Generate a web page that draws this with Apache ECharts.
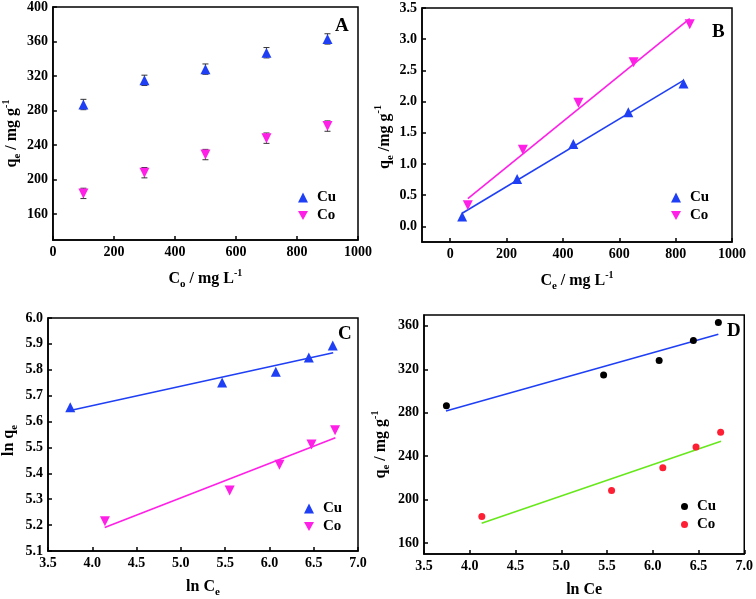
<!DOCTYPE html>
<html>
<head>
<meta charset="utf-8">
<script src="https://cdn.jsdelivr.net/npm/echarts@6/dist/echarts.min.js"></script>
<style>html,body{margin:0;padding:0;background:#fff;}#c{width:756px;height:599px;}</style>
</head>
<body>
<div id="c"></div>
<script>
// ---- Panel A: qe vs C0 (with error bars)
const aConc = [100, 300, 500, 700, 900];
const aCuQe = [287, 315, 328, 347, 363];
const aCoQe = [184, 208, 229, 248, 262];
const aCuErr = [6, 6, 6, 6, 6];
const aCoErr = [6, 6, 6, 6, 6];
const aXTicks = [0, 200, 400, 600, 800, 1000];
const aYTicks = [160, 200, 240, 280, 320, 360, 400];

// ---- Panel B: Langmuir (Ce/qe vs Ce)
const bCuCe = [42.5, 237.6, 437, 632, 828];
const bCuY = [0.16, 0.76, 1.32, 1.83, 2.29];
const bCoCe = [62.6, 258, 455, 651, 850];
const bCoY = [0.34, 1.23, 1.98, 2.63, 3.24];
const bCuFitX = [42.5, 828];
const bCuFitY = [0.21, 2.34];
const bCoFitX = [62.6, 850];
const bCoFitY = [0.447, 3.33];
const bXTicks = [0, 200, 400, 600, 800, 1000];
const bYTicks = [0, 0.5, 1.0, 1.5, 2.0, 2.5, 3.0, 3.5];

// ---- Panel C: Freundlich (ln qe vs ln Ce)
const cCuX = [3.751, 5.466, 6.072, 6.445, 6.715];
const cCuY = [5.655, 5.751, 5.792, 5.847, 5.894];
const cCoX = [4.143, 5.551, 6.113, 6.475, 6.741];
const cCoY = [5.215, 5.334, 5.433, 5.511, 5.566];
const cCuFitX = [3.75, 6.72];
const cCuFitY = [5.643, 5.866];
const cCoFitX = [4.14, 6.745];
const cCoFitY = [5.191, 5.537];
const cXTicks = [3.5, 4.0, 4.5, 5.0, 5.5, 6.0, 6.5, 7.0];
const cYTicks = [5.1, 5.2, 5.3, 5.4, 5.5, 5.6, 5.7, 5.8, 5.9, 6.0];

// ---- Panel D: Temkin (qe vs ln Ce)
const dCuX = [3.745, 5.463, 6.07, 6.444, 6.717];
const dCuY = [286.5, 314.7, 328.2, 346.5, 363];
const dCoX = [4.132, 5.55, 6.11, 6.473, 6.742];
const dCoY = [184.5, 208.4, 229.5, 248.5, 262];
const dCuFitX = [3.74, 6.717];
const dCuFitY = [281.6, 352.3];
const dCoFitX = [4.13, 6.746];
const dCoFitY = [178.4, 253.7];
const dXTicks = [3.5, 4.0, 4.5, 5.0, 5.5, 6.0, 6.5, 7.0];
const dYTicks = [160, 200, 240, 280, 320, 360];

const FONT = "'Liberation Serif', 'Times New Roman', serif";
const BLUE = '#1f3ff5';
const MAGENTA = '#ff1fe6';
const RED = '#ff1f35';
const GREEN = '#66e81a';
const DOWN = 'path://M0,0 L10,0 L5,9 Z';

const zip = (xs, ys) => xs.map((x, i) => [x, ys[i]]);

const rich = {
  b: { fontFamily: FONT, fontWeight: 'bold', fontSize: 16, lineHeight: 22, color: '#000' },
  s: { fontFamily: FONT, fontWeight: 'bold', fontSize: 11, lineHeight: 11, verticalAlign: 'bottom', color: '#000' },
  p: { fontFamily: FONT, fontWeight: 'bold', fontSize: 10, lineHeight: 10, verticalAlign: 'top', color: '#000' }
};

function axis(type, gridIndex, min, max, ticks, name, gap, dec, pad) {
  return {
    type: 'value', gridIndex, min, max,
    name, nameLocation: 'middle', nameGap: gap,
    nameTextStyle: { rich, padding: pad || 0 },
    axisLine: { show: true, onZero: false, lineStyle: { color: '#000', width: 1.5 } },
    axisTick: { show: true, inside: true, length: 4, customValues: ticks, lineStyle: { color: '#000', width: 1.5 } },
    axisLabel: {
      customValues: ticks, margin: 5, color: '#000', fontFamily: FONT, fontWeight: 'bold', fontSize: 14,
      formatter: v => dec ? Number(v).toFixed(1) : String(Math.round(v))
    },
    splitLine: { show: false }
  };
}

const grid = (left, top, width, height) => ({ left, top, width, height, show: true, borderColor: '#000', borderWidth: 1.5, backgroundColor: 'transparent' });

function errorBars(idx, xs, ys, errs) {
  return {
    type: 'custom', xAxisIndex: idx, yAxisIndex: idx, z: 1, silent: true,
    data: xs.map((x, i) => [x, ys[i], errs[i]]),
    renderItem: (params, api) => {
      const x = api.value(0), y = api.value(1), e = api.value(2);
      const t = api.coord([x, y + e]);
      const b = api.coord([x, y - e]);
      const st = { stroke: '#333', lineWidth: 1 };
      return {
        type: 'group', children: [
          { type: 'line', shape: { x1: t[0], y1: t[1], x2: b[0], y2: b[1] }, style: st },
          { type: 'line', shape: { x1: t[0] - 3, y1: t[1], x2: t[0] + 3, y2: t[1] }, style: st },
          { type: 'line', shape: { x1: b[0] - 3, y1: b[1], x2: b[0] + 3, y2: b[1] }, style: st }
        ]
      };
    }
  };
}

const scatter = (name, idx, data, symbol, size, color) => ({
  name, type: 'scatter', xAxisIndex: idx, yAxisIndex: idx, data, symbol, symbolSize: size,
  itemStyle: { color, opacity: 1 }, z: 3
});
const fit = (idx, data, color) => ({
  type: 'line', xAxisIndex: idx, yAxisIndex: idx, data, symbol: 'none', silent: true,
  lineStyle: { color, width: 1.6 }, z: 2
});

const legend = (names, left, top, size) => ({
  data: names, orient: 'vertical', left, top, itemWidth: size, itemHeight: size, itemGap: 3,
  selectedMode: false, padding: 0,
  formatter: n => n.split('_')[0],
  textStyle: { fontFamily: FONT, fontWeight: 'bold', fontSize: 15, color: '#000', padding: [0, 0, 0, 4] }
});

const letter = (t, left, top) => ({ text: t, left, top, padding: 0, textStyle: { fontFamily: FONT, fontWeight: 'bold', fontSize: 19, color: '#000' } });

const option = {
  animation: false,
  backgroundColor: '#fff',
  title: [letter('A', 335, 17), letter('B', 712, 23), letter('C', 338, 325), letter('D', 727, 322)],
  grid: [grid(50, 6, 308, 234), grid(422, 8, 310, 234), grid(43, 318, 315, 234), grid(424, 315, 322, 239)],
  xAxis: [
    axis('x', 0, 0, 1000, aXTicks, '{b|C}{s|o}{b| / mg L}{p|-1}', 28, false),
    axis('x', 1, -100, 1000, bXTicks, '{b|C}{s|e}{b| / mg L}{p|-1}', 28, false),
    axis('x', 2, 3.5, 7.0, cXTicks, '{b|ln C}{s|e}', 25, true),
    axis('x', 3, 3.5, 7.0, dXTicks, '{b|ln Ce}', 25, true)
  ],
  yAxis: [
    axis('y', 0, 130, 400, aYTicks, '{b|q}{s|e}{b| / mg g}{p|-1}', 28, false, [0, 20, 0, 0]),
    axis('y', 1, -0.25, 3.5, bYTicks, '{b|q}{s|e}{b| /mg g}{p|-1}', 24, true, [0, 24, 0, 0]),
    axis('y', 2, 5.1, 6.0, cYTicks, '{b|ln q}{s|e}', 28, true, [0, 12, 0, 0]),
    axis('y', 3, 150, 370, dYTicks, '{b|q}{s|e}{b| / mg g}{p|-1}', 32, false, [0, 20, 0, 0])
  ],
  legend: [
    legend(['Cu_A', 'Co_A'], 298, 190, 10),
    legend(['Cu_B', 'Co_B'], 671, 190, 10),
    legend(['Cu_C', 'Co_C'], 304, 501, 10),
    legend(['Cu_D', 'Co_D'], 681, 499, 7)
  ],
  series: [
    errorBars(0, aConc, aCuQe, aCuErr),
    errorBars(0, aConc, aCoQe, aCoErr),
    scatter('Cu_A', 0, zip(aConc, aCuQe), 'triangle', 10, BLUE),
    scatter('Co_A', 0, zip(aConc, aCoQe), DOWN, 10, MAGENTA),

    fit(1, zip(bCuFitX, bCuFitY), BLUE),
    fit(1, zip(bCoFitX, bCoFitY), MAGENTA),
    scatter('Cu_B', 1, zip(bCuCe, bCuY), 'triangle', 10, BLUE),
    scatter('Co_B', 1, zip(bCoCe, bCoY), DOWN, 10, MAGENTA),

    fit(2, zip(cCuFitX, cCuFitY), BLUE),
    fit(2, zip(cCoFitX, cCoFitY), MAGENTA),
    scatter('Cu_C', 2, zip(cCuX, cCuY), 'triangle', 10, BLUE),
    scatter('Co_C', 2, zip(cCoX, cCoY), DOWN, 10, MAGENTA),

    fit(3, zip(dCuFitX, dCuFitY), BLUE),
    fit(3, zip(dCoFitX, dCoFitY), GREEN),
    scatter('Cu_D', 3, zip(dCuX, dCuY), 'circle', 7, '#000'),
    scatter('Co_D', 3, zip(dCoX, dCoY), 'circle', 7, RED)
  ]
};

const chart = echarts.init(document.getElementById('c'), null, { renderer: 'canvas' });
chart.setOption(option);
</script>
</body>
</html>
